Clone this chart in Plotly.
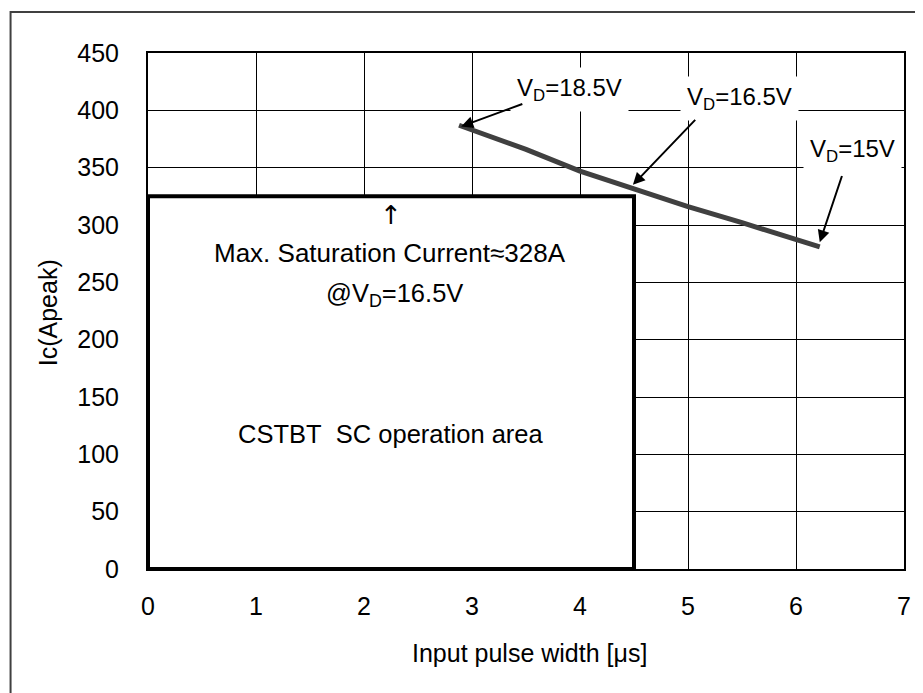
import plotly.graph_objects as go

# short-circuit current curve
pulse_width = [2.88, 3.5, 4.0, 4.5, 5.0, 5.5, 6.0, 6.22]
ic_peak = [387, 366, 347, 331, 316, 302, 288, 281]

# SC operation area box
area_x = [0, 0, 4.5, 4.5, 0]
area_y = [0, 325, 325, 0, 0]

x_ticks = [0, 1, 2, 3, 4, 5, 6, 7]
y_ticks = [0, 50, 100, 150, 200, 250, 300, 350, 400, 450]

FONT = "Liberation Sans, Arial, sans-serif"
FS = 25

fig = go.Figure()
fig.add_trace(go.Scatter(x=area_x, y=area_y, mode="lines", fill="toself",
                         fillcolor="white", line=dict(color="black", width=4),
                         hoverinfo="skip"))
fig.add_trace(go.Scatter(x=pulse_width, y=ic_peak, mode="lines",
                         line=dict(color="#404040", width=5)))

# labels with arrows: (text, text x, text y, tail x, tail y, head x, head y)
labels = [
    ("V<sub>D</sub>=18.5V", 3.90, 418, 3.48, 406, 2.90, 386),
    ("V<sub>D</sub>=16.5V", 5.48, 410, 5.08, 393, 4.49, 335),
    ("V<sub>D</sub>=15V", 6.52, 365, 6.43, 344, 6.22, 285),
]
for text, tx, ty, ax, ay, hx, hy in labels:
    fig.add_annotation(x=tx, y=ty, text=text, showarrow=False, bgcolor="white",
                       borderpad=6, font=dict(size=24))
    fig.add_annotation(x=hx, y=hy, ax=ax, ay=ay, axref="x", ayref="y", text="",
                       showarrow=True, arrowhead=2, arrowsize=1.2, arrowwidth=2,
                       arrowcolor="black")

fig.add_annotation(x=2.25, y=309, text="\u2191", showarrow=False,
                   font=dict(size=26, family="DejaVu Sans", color="black"))
fig.add_annotation(x=2.24, y=276, text="Max. Saturation Current\u2248328A",
                   showarrow=False, font=dict(size=26))
fig.add_annotation(x=2.28, y=239, text="@V<sub>D</sub>=16.5V", showarrow=False,
                   font=dict(size=25.5))
fig.add_annotation(x=2.25, y=118, text="CSTBT\u00a0 SC operation area",
                   showarrow=False, font=dict(size=25.5))

# axis titles
fig.add_annotation(xref="paper", yref="paper", x=0.505, y=-0.163,
                   xanchor="center", yanchor="middle",
                   text="Input pulse width [\u03bcs]", showarrow=False,
                   font=dict(size=FS))
fig.add_annotation(xref="paper", yref="paper", x=-0.132, y=0.496,
                   xanchor="center", yanchor="middle",
                   text="Ic(Apeak)", textangle=-90, showarrow=False,
                   font=dict(size=FS))

# outer frame of the figure
fig.add_shape(type="rect", xref="paper", yref="paper", x0=-0.1818, y0=-0.4,
              x1=1.2, y1=1.0795, line=dict(color="#404040", width=2))

axis_style = dict(showgrid=True, gridcolor="black", gridwidth=1, zeroline=False,
                  showline=True, mirror=True, linecolor="black", linewidth=2,
                  ticks="", tickfont=dict(size=FS, color="black"))
fig.update_xaxes(range=[0, 7], tickvals=x_ticks, ticklabelstandoff=14, **axis_style)
fig.update_yaxes(range=[0, 450], tickvals=y_ticks, ticklabelstandoff=22, **axis_style)

# page body adds an 8 px margin, so the figure is 8 px smaller
fig.update_layout(width=915, height=685, showlegend=False,
                  margin=dict(l=140, r=16, t=45, b=124),
                  paper_bgcolor="white", plot_bgcolor="white",
                  font=dict(family=FONT, size=FS, color="black"))

fig.write_html("out.html")
